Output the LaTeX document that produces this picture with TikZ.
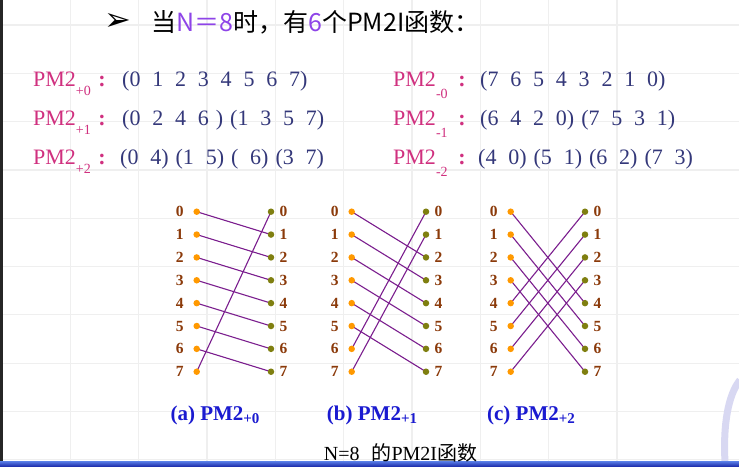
\documentclass[tikz,border=0pt]{standalone}
\usepackage{fontspec}
\setmainfont{Liberation Serif}
\newfontfamily\cjk{Noto Sans CJK SC}
\newfontfamily\dejavu{DejaVu Sans}
\definecolor{tpurple}{HTML}{8E44E8}
\definecolor{pmag}{HTML}{D0307F}
\definecolor{seqnavy}{HTML}{34387A}
\definecolor{lblbrown}{HTML}{8B3A0A}
\definecolor{dotorange}{HTML}{FF9900}
\definecolor{dotolive}{HTML}{7F7F10}
\definecolor{linkpurple}{HTML}{7B1E8E}
\definecolor{capblue}{HTML}{1A1AD0}
\definecolor{gridgray}{HTML}{EFEFEF}
\definecolor{barlight}{HTML}{5A80E8}
\definecolor{bardark}{HTML}{2233B0}
\definecolor{wmark}{HTML}{D8D8F2}
\newcommand\gapA{\hspace{11.8pt}}
\newcommand\gapB{\hspace{7pt}}
\pgfdeclarelayer{bggrid}
\pgfdeclarelayer{links}
\pgfsetlayers{bggrid,links,main}
\begin{document}
\begin{tikzpicture}[x=1pt,y=-1pt,
  pmlab/.style={inner sep=0pt,anchor=base west,text=pmag,font=\fontsize{22}{22}\selectfont},
  pmcolon/.style={inner sep=0pt,anchor=base,text=pmag,font=\bfseries\fontsize{22}{22}\selectfont},
  pmseq/.style={inner sep=0pt,anchor=base west,text=seqnavy,font=\fontsize{22}{22}\selectfont},
  ldot/.style={circle,fill=dotorange,inner sep=0pt,minimum size=6.5pt},
  rdot/.style={circle,fill=dotolive,inner sep=0pt,minimum size=6.5pt},
  numlbl/.style={inner sep=0pt,text=lblbrown,font=\bfseries\fontsize{15.5}{15.5}\selectfont},
  link/.style={draw=linkpurple,line width=1.1pt},
  capt/.style={inner sep=0pt,anchor=base,text=capblue,font=\bfseries\fontsize{21}{21}\selectfont},
  gridline/.style={draw=gridgray,line width=1.2pt}
]
\useasboundingbox (0,0) rectangle (739,466);
\begin{pgfonlayer}{bggrid}
  \fill[white] (0,0) rectangle (739,466);
  \foreach \k in {0,...,9} {
    \draw[gridline] ({2+68.33*\k},0) -- ({2+68.33*\k},461);
    \draw[gridline] (0,{25+48.3*\k}) -- (739,{25+48.3*\k});
  }
  \draw[wmark,line width=7pt] (740,380) .. controls (728,395) and (723,425) .. (725,462);
  \fill[black!85] (0,0) rectangle (2.6,466);
\end{pgfonlayer}
% bottom bar
\shade[top color=barlight,bottom color=bardark] (0,461) rectangle (739,466);

% title
\node[inner sep=0pt,font=\dejavu\fontsize{32}{32}\selectfont] (bullet) at (118,22) {➢};
\node[inner sep=0pt,anchor=base west,font=\cjk\fontsize{25}{25}\selectfont] (title) at (151,31)
  {当\textcolor{tpurple}{N＝8}时，有\textcolor{tpurple}{6}个PM2I函数：};

% left column
\node[pmlab] (pl0) at (33,86.7) {PM2\raisebox{-9pt}{\fontsize{14}{14}\selectfont +0}};
\node[pmcolon] (cl0) at (102,86.7) {:};
\node[pmseq] (sl0) at (122,86.7) {(0\gapA1\gapA2\gapA3\gapA4\gapA5\gapA6\gapA7)};
\node[pmlab] (pl1) at (33,125) {PM2\raisebox{-9pt}{\fontsize{14}{14}\selectfont +1}};
\node[pmcolon] (cl1) at (102,125) {:};
\node[pmseq] (sl1) at (122,125) {(0\gapA2\gapA4\gapA6\gapB)\gapB(1\gapA3\gapA5\gapA7)};
\node[pmlab] (pl2) at (33,164) {PM2\raisebox{-9pt}{\fontsize{14}{14}\selectfont +2}};
\node[pmcolon] (cl2) at (102,164) {:};
\node[pmseq] (sl2) at (120,164) {(0\gapA4)\gapB(1\gapA5)\gapB(\gapA6)\gapB(3\gapA7)};

% right column
\node[pmlab] (pr0) at (393,86.7) {PM2\raisebox{-12pt}{\fontsize{14}{14}\selectfont -0}};
\node[pmcolon] (cr0) at (462,86.7) {:};
\node[pmseq] (sr0) at (480,86.7) {(7\gapA6\gapA5\gapA4\gapA3\gapA2\gapA1\gapA0)};
\node[pmlab] (pr1) at (393,125) {PM2\raisebox{-12pt}{\fontsize{14}{14}\selectfont -1}};
\node[pmcolon] (cr1) at (462,125) {:};
\node[pmseq] (sr1) at (480,125) {(6\gapA4\gapA2\gapA0)\gapB(7\gapA5\gapA3\gapA1)};
\node[pmlab] (pr2) at (393,164) {PM2\raisebox{-12pt}{\fontsize{14}{14}\selectfont -2}};
\node[pmcolon] (cr2) at (462,164) {:};
\node[pmseq] (sr2) at (478,164) {(4\gapA0)\gapB(5\gapA1)\gapB(6\gapA2)\gapB(7\gapA3)};

% diagrams
\foreach \d/\lx/\rx in {a/196.7/271, b/351.7/426, c/510.7/585} {
  \foreach \i in {0,...,7} {
    \node[ldot] (\d L\i) at (\lx,{211.7+22.86*\i}) {};
    \node[rdot] (\d R\i) at (\rx,{211.7+22.86*\i}) {};
    \node[numlbl] (\d l\i) at (\lx-17,{211.7+22.86*\i}) {\i};
    \node[numlbl] (\d r\i) at (\rx+12.5,{211.7+22.86*\i}) {\i};
  }
}
\begin{pgfonlayer}{links}
\foreach \i in {0,...,7} {
  \pgfmathtruncatemacro\ja{mod(\i+1,8)}
  \pgfmathtruncatemacro\jb{mod(\i+2,8)}
  \pgfmathtruncatemacro\jc{mod(\i+4,8)}
  \draw[link] (aL\i.center) -- (aR\ja.center);
  \draw[link] (bL\i.center) -- (bR\jb.center);
  \draw[link] (cL\i.center) -- (cR\jc.center);
}
\end{pgfonlayer}

% captions
\node[capt] (capa) at (215,420) {(a) PM2\raisebox{-3pt}{\fontsize{15}{15}\selectfont +0}};
\node[capt] (capb) at (372,420) {(b) PM2\raisebox{-3pt}{\fontsize{15}{15}\selectfont +1}};
\node[capt] (capc) at (531,420) {(c) PM2\raisebox{-3pt}{\fontsize{15}{15}\selectfont +2}};

\node[inner sep=0pt,anchor=base,font=\fontsize{20}{20}\selectfont] (bottomcap) at (400.5,460)
  {N=8\hspace{12pt}{\cjk 的}PM2I{\cjk 函数}};
\end{tikzpicture}
\end{document}
